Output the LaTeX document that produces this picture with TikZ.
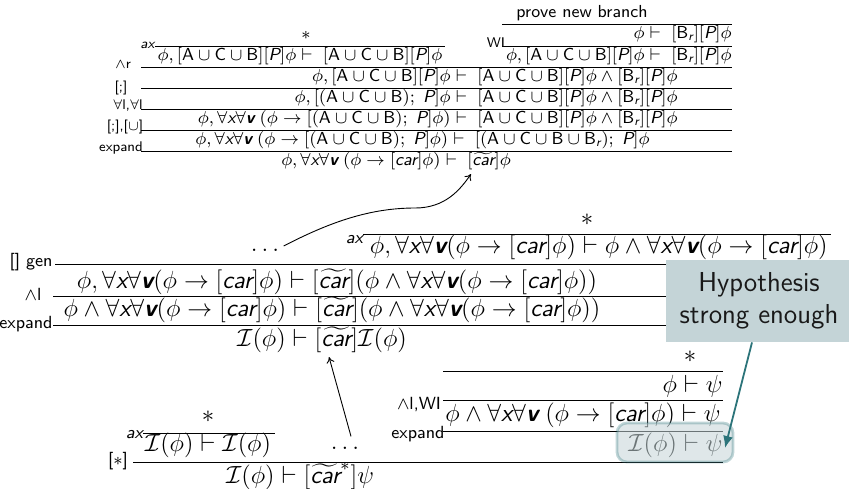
\RequirePackage{fix-cm}
\documentclass[tikz,border=0pt]{standalone}
\usepackage{amsmath,amssymb}
\usetikzlibrary{arrows.meta}
\renewcommand{\familydefault}{\sfdefault}
\newcommand{\xsi}[1]{\textsf{\itshape #1}}
\newcommand{\xsv}{\textsf{\bfseries\itshape v}}
\newcommand{\xsu}[1]{\textsf{#1}}
\newcommand{\ACB}{[\xsu{A}\cup\xsu{C}\cup\xsu{B}]}
\newcommand{\pACB}{(\xsu{A}\cup\xsu{C}\cup\xsu{B})}
\newcommand{\Brr}{[\xsu{B}_{\xsi{r}}]}
\newcommand{\Pp}{[\xsi{P}]}
\newcommand{\carr}{[\xsi{car}]}
\newcommand{\tcar}{[\widetilde{\xsi{car}}]}
\newcommand{\fxv}{\forall\xsi{x}\forall\xsv}
\definecolor{hypbg}{RGB}{196,212,215}
\definecolor{tealarr}{RGB}{44,116,122}
\tikzset{
  top/.style={font=\fontsize{8.7}{10}\selectfont, inner sep=0pt},
  toplbl/.style={font=\fontsize{7}{8}\selectfont, inner sep=0pt},
  main/.style={font=\fontsize{12.4}{14}\selectfont, inner sep=0pt},
  mainlbl/.style={font=\fontsize{8.8}{10}\selectfont, inner sep=0pt},
  rule/.style={line width=0.5pt},
  hypbox/.style={fill=hypbg, inner sep=0pt, minimum width=93pt, minimum height=41pt,
    align=center, font=\fontsize{13.7}{16}\selectfont, text=black!90},
  hilite/.style={rounded corners=5pt, fill=hypbg, fill opacity=0.55, draw=tealarr,
    draw opacity=0.3, line width=1.4pt},
  ptr/.style={-{To[length=3pt,width=4pt]}, line width=0.45pt},
  tealptr/.style={draw=tealarr, line width=0.9pt, -{Latex[length=6pt,width=5pt]}}
}
\begin{document}
\begin{tikzpicture}[x=0.5pt,y=-0.5pt]
\useasboundingbox (0,0) rectangle (849,488);
% ---------- top proof ----------
\node[top] (pnb) at (582,13) {prove new branch};
\draw[rule] (502,24) -- (732,24);
\node[top,anchor=east] (t1) at (732,34) {$\phi\vdash\;\Brr\Pp\phi$};
\node[top] (st1) at (306,35) {$*$};
\node[toplbl] (axt) at (148,45) {\textit{ax}};
\draw[rule] (155,46) -- (445,46);
\node[toplbl] (wil) at (496,43) {WI};
\draw[rule] (502,46) -- (732,46);
\node[top] (t2l) at (300,56) {$\phi, \ACB\Pp\phi\vdash\;\ACB\Pp\phi$};
\node[top,anchor=east] (t2r) at (732,56) {$\phi, \ACB\Pp\phi\vdash\;\Brr\Pp\phi$};
\node[toplbl] (l1) at (123,65) {$\wedge$r};
\draw[rule] (141,67) -- (732,67);
\node[top,anchor=east] (t3) at (678,77) {$\phi, \ACB\Pp\phi\vdash\;\ACB\Pp\phi\wedge\Brr\Pp\phi$};
\node[toplbl] (l2) at (121,88) {[;]};
\draw[rule] (141,88) -- (732,88);
\node[top,anchor=east] (t4) at (678,98) {$\phi, [\pACB;\;\xsi{P}]\phi\vdash\;\ACB\Pp\phi\wedge\Brr\Pp\phi$};
\node[toplbl] (l3) at (128,106) {$\forall$l,$\forall$l};
\draw[rule] (141,109) -- (732,109);
\node[top,anchor=east] (t5) at (678,119) {$\phi, \fxv\;(\phi\rightarrow[\pACB;\;\xsi{P}]\phi)\vdash\;\ACB\Pp\phi\wedge\Brr\Pp\phi$};
\node[toplbl] (l4) at (125,127) {[;],[$\cup$]};
\draw[rule] (141,130) -- (732,130);
\node[top,anchor=east] (t6) at (650,140) {$\phi, \fxv\;(\phi\rightarrow[\pACB;\;\xsi{P}]\phi)\vdash\;[(\xsu{A}\cup\xsu{C}\cup\xsu{B}\cup\xsu{B}_{\xsi{r}});\;\xsi{P}]\phi$};
\node[toplbl] (l5) at (121,148) {expand};
\draw[rule] (141,151) -- (732,151);
\node[top] (t7) at (396,161) {$\phi, \fxv\;(\phi\rightarrow\carr\phi)\vdash\;\tcar\phi$};
\coordinate (t7tip) at (471,174);
% ---------- main proof ----------
\node[main] (ms) at (587,220) {$*$};
\node[mainlbl] (max) at (355,240) {\textit{ax}};
\draw[rule] (363,234) -- (831,234);
\node[main,anchor=east] (m0) at (828,247) {$\phi, \fxv(\phi\rightarrow\carr\phi)\vdash\phi\wedge\fxv(\phi\rightarrow\carr\phi)$};
\node[main] (dots1) at (265,250) {$\ldots$};
\node[mainlbl] (g1) at (31,262) {[] gen};
\draw[rule] (55,264) -- (831,264);
\node[main] (m1) at (337,282) {$\phi, \fxv(\phi\rightarrow\carr\phi)\vdash\tcar(\phi\wedge\fxv(\phi\rightarrow\carr\phi))$};
\node[mainlbl] (g2) at (33,294) {$\wedge$l};
\draw[rule] (53,296) -- (831,296);
\node[main] (m2) at (332,310) {$\phi\wedge\fxv(\phi\rightarrow\carr\phi)\vdash\tcar(\phi\wedge\fxv(\phi\rightarrow\carr\phi))$};
\node[mainlbl] (g3) at (26,324) {expand};
\draw[rule] (53,325) -- (831,325);
\node[main] (m3) at (322,340) {$\mathcal{I}(\phi)\vdash\tcar\mathcal{I}(\phi)$};
\coordinate (m3tip) at (329,357);
% ---------- bottom right ----------
\node[main] (bs) at (690,357) {$*$};
\draw[rule] (443,371) -- (723,371);
\node[main,anchor=east] (b1) at (723,386) {$\phi\vdash\psi$};
\draw[rule] (443,400) -- (723,400);
\node[mainlbl] (g4) at (419,404) {$\wedge$l,WI};
\node[main] (b2) at (583,415) {$\phi\wedge\fxv\;(\phi\rightarrow\carr\phi)\vdash\psi$};
\draw[rule] (443,431) -- (723,431);
\node[mainlbl] (g5) at (418,434) {expand};
\node[main,anchor=east] (b3) at (723,445) {$\mathcal{I}(\phi)\vdash\psi$};
% ---------- bottom left ----------
\node[main] (bls) at (208,417) {$*$};
\node[mainlbl] (bax) at (135,435) {\textit{ax}};
\draw[rule] (143,433) -- (275,433);
\node[main] (bl1) at (208,445) {$\mathcal{I}(\phi)\vdash\mathcal{I}(\phi)$};
\node[main] (dots2) at (345,448) {$\ldots$};
\node[mainlbl] (g6) at (118,461) {[$*$]};
\draw[rule] (133,462) -- (723,462);
\node[main] (bl2) at (300,476) {$\mathcal{I}(\phi)\vdash[\widetilde{\xsi{car}}^{*}]\psi$};
% ---------- annotations ----------
\node[hypbox] (hyp) at (759,301) {Hypothesis\\strong enough};
\draw[hilite] (617,423) rectangle (733,462);
\coordinate (psitip) at (725,448);
\draw[ptr] ([xshift=2pt,yshift=2pt]dots1.east) .. controls (330,222) and (370,208) .. (415,208)
  .. controls (445,208) and (460,190) .. (t7tip);
\draw[ptr] ([xshift=3pt,yshift=5pt]dots2.north) -- (m3tip);
\draw[tealptr] ([xshift=-3.5pt]hyp.south) -- (psitip);
\end{tikzpicture}
\end{document}
